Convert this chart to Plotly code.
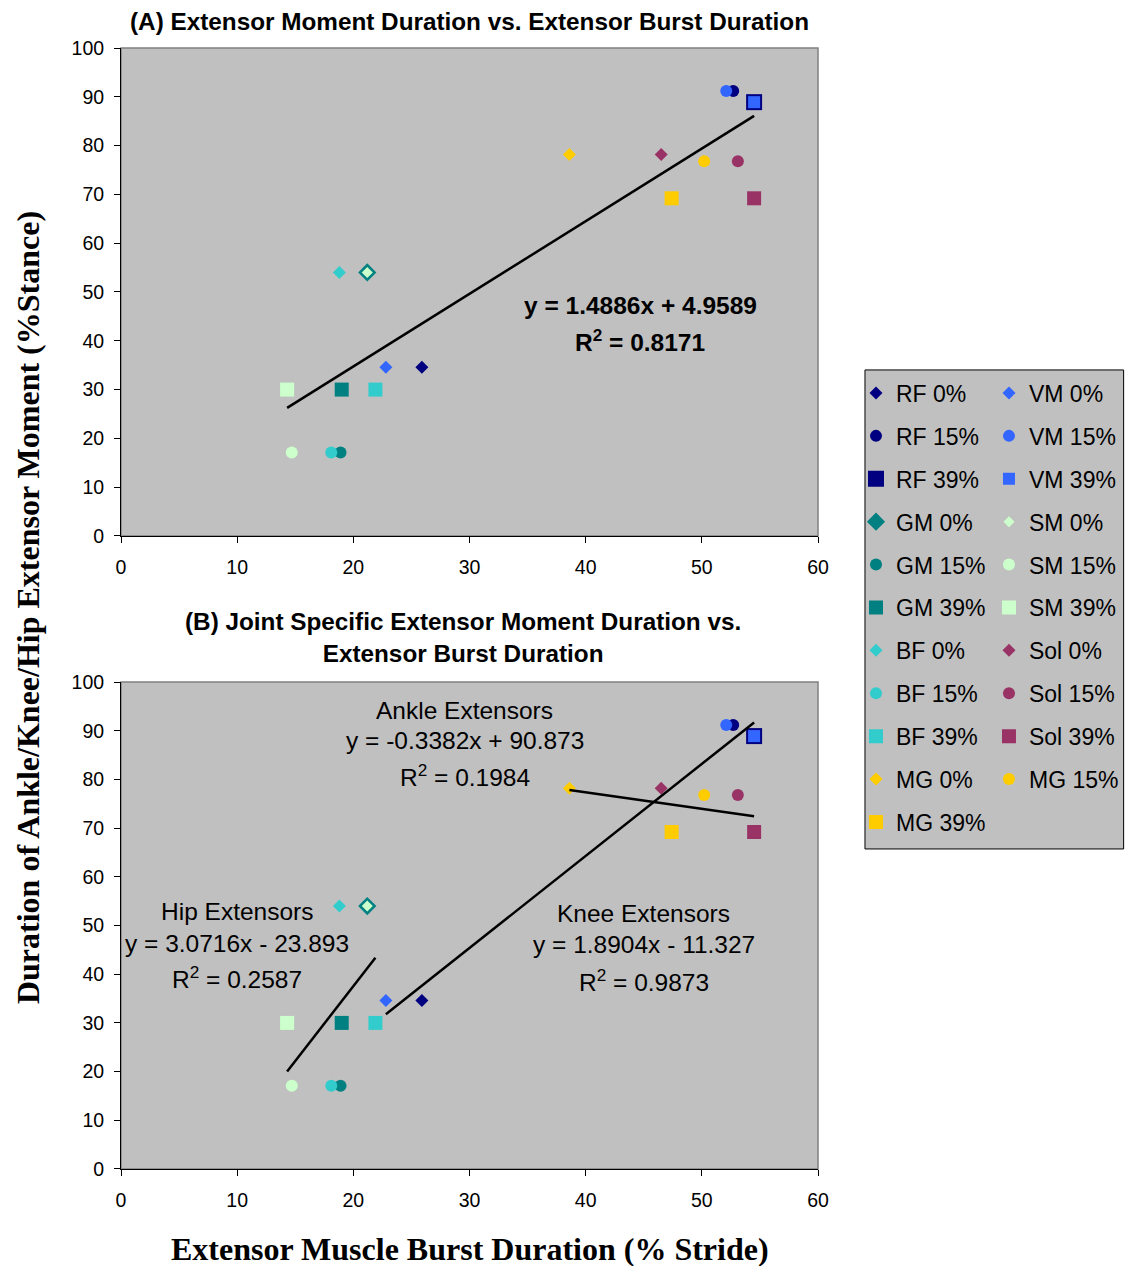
import plotly.graph_objects as go

# ---------------- data ----------------
series_names = ["RF 0%", "VM 0%", "RF 15%", "VM 15%", "RF 39%", "VM 39%",
                "GM 0%", "SM 0%", "GM 15%", "SM 15%", "GM 39%", "SM 39%",
                "BF 0%", "Sol 0%", "BF 15%", "Sol 15%", "BF 39%", "Sol 39%",
                "MG 0%", "MG 15%", "MG 39%"]
burst_duration = [25.9, 22.8, 52.7, 52.1, 54.5, 54.5,
                  21.2, 21.2, 18.9, 14.7, 19.0, 14.3,
                  18.8, 46.5, 18.1, 53.1, 21.9, 54.5,
                  38.6, 50.2, 47.4]
moment_duration = [34.6, 34.6, 91.2, 91.2, 88.9, 88.9,
                   54.0, 54.0, 17.1, 17.1, 30.0, 30.0,
                   54.0, 78.2, 17.1, 76.8, 30.0, 69.2,
                   78.2, 76.8, 69.2]

# regression results (slope, intercept, R^2)
overall_fit = (1.4886, 4.9589, 0.8171)
hip_fit = (3.0716, -23.893, 0.2587)
knee_fit = (1.8904, -11.327, 0.9873)
ankle_fit = (-0.3382, 90.873, 0.1984)

hip_muscles = ["GM", "SM", "BF"]
knee_muscles = ["RF", "VM"]
ankle_muscles = ["Sol", "MG"]

x_ticks = [0, 10, 20, 30, 40, 50, 60]
y_ticks = [0, 10, 20, 30, 40, 50, 60, 70, 80, 90, 100]

# ---------------- styles ----------------
colors = {"RF": "#000080", "VM": "#3366FF", "GM": "#008080", "SM": "#CCFFCC",
          "BF": "#33CCCC", "Sol": "#993366", "MG": "#FFCC00"}
symbols = {"0%": "diamond", "15%": "circle", "39%": "square"}
base_size = {"0%": 10, "15%": 12, "39%": 14}
size_override = {"GM 0%": 14, "SM 0%": 8.5, "RF 39%": 16, "VM 39%": 12}

SANS = "Liberation Sans, Arial, sans-serif"
SERIF = "Liberation Serif, Times New Roman, serif"
ANN_SIZE = 24.5

fig = go.Figure()

for i, name in enumerate(series_names):
    muscle, cond = name.split(" ")
    size = size_override.get(name, base_size[cond])
    for panel, (xa, ya) in enumerate([("x", "y"), ("x2", "y2")]):
        fig.add_trace(go.Scatter(
            x=[burst_duration[i]], y=[moment_duration[i]],
            mode="markers", name=name,
            xaxis=xa, yaxis=ya,
            marker=dict(symbol=symbols[cond], size=size, color=colors[muscle],
                        line=dict(width=0)),
            legend="legend" if i % 2 == 0 else "legend2",
            legendgroup=name,
            showlegend=(panel == 0),
        ))


def fit_line(fit, muscles, xa, ya):
    xs = [burst_duration[i] for i, n in enumerate(series_names) if n.split(" ")[0] in muscles]
    x0, x1 = min(xs), max(xs)
    m, b, _ = fit
    fig.add_trace(go.Scatter(x=[x0, x1], y=[m * x0 + b, m * x1 + b], mode="lines",
                             line=dict(color="black", width=2.5), showlegend=False,
                             xaxis=xa, yaxis=ya, hoverinfo="skip"))


fit_line(overall_fit, list(colors.keys()), "x", "y")
fit_line(hip_fit, hip_muscles, "x2", "y2")
fit_line(knee_fit, knee_muscles, "x2", "y2")
fit_line(ankle_fit, ankle_muscles, "x2", "y2")


def eq_text(fit):
    m, b, _ = fit
    sign = "+" if b >= 0 else "-"
    return f"y = {m:g}x {sign} {abs(b):g}"


def r2_text(fit):
    return f"R<sup>2</sup> = {fit[2]:g}"


annotations = []
# panel A equation (bold)
annotations.append(dict(x=44.7, y=47.3, xref="x", yref="y", text=f"<b>{eq_text(overall_fit)}</b>",
                        showarrow=False, font=dict(family=SANS, size=ANN_SIZE, color="black")))
annotations.append(dict(x=44.7, y=40.0, xref="x", yref="y", text=f"<b>{r2_text(overall_fit)}</b>",
                        showarrow=False, font=dict(family=SANS, size=ANN_SIZE, color="black")))

# panel B labels
for label, fit, cx, ys in [("Ankle Extensors", ankle_fit, 29.6, (94.2, 87.9, 80.9)),
                           ("Hip Extensors", hip_fit, 10.0, (52.8, 46.4, 39.4)),
                           ("Knee Extensors", knee_fit, 45.0, (52.4, 46.0, 38.8))]:
    for txt, yy in zip([label, eq_text(fit), r2_text(fit)], ys):
        annotations.append(dict(x=cx, y=yy, xref="x2", yref="y2", text=txt, showarrow=False,
                                font=dict(family=SANS, size=ANN_SIZE, color="black")))

# titles
annotations.append(dict(x=0.5, y=1.0235, xref="paper", yref="paper",
                        text="<b>(A) Extensor Moment Duration vs. Extensor Burst Duration</b>",
                        showarrow=False, xanchor="center", yanchor="middle",
                        font=dict(family=SANS, size=24.3, color="black")))
annotations.append(dict(x=0.4907, y=0.4737, xref="paper", yref="paper",
                        text="<b>(B) Joint Specific Extensor Moment Duration vs.<br>Extensor Burst Duration</b>",
                        showarrow=False, xanchor="center", yanchor="middle",
                        font=dict(family=SANS, size=24.3, color="black")))
# axis titles
annotations.append(dict(x=-0.1334, y=0.5004, xref="paper", yref="paper",
                        text="<b>Duration of Ankle/Knee/Hip Extensor Moment (%Stance)</b>",
                        textangle=-90, showarrow=False, xanchor="center", yanchor="middle",
                        font=dict(family=SERIF, size=32, color="black")))
annotations.append(dict(x=0.5, y=-0.0714, xref="paper", yref="paper",
                        text="<b>Extensor Muscle Burst Duration (% Stride)</b>",
                        showarrow=False, xanchor="center", yanchor="middle",
                        font=dict(family=SERIF, size=32, color="black")))

shapes = []
for xd, yd in [("x domain", "y domain"), ("x2 domain", "y2 domain")]:
    shapes.append(dict(type="rect", xref=xd, yref=yd, x0=0, x1=1, y0=0, y1=1,
                       line=dict(color="#808080", width=1.5), layer="below"))
# legend box
shapes.append(dict(type="rect", xref="paper", yref="paper", x0=1.0674, x1=1.4385,
                   y0=0.2855, y1=0.7128, fillcolor="#C0C0C0",
                   line=dict(color="black", width=1), layer="below"))

axis_common = dict(range=[0, 60], tickvals=x_ticks, ticks="outside", ticklen=6, tickcolor="black",
                   showline=True, linecolor="black", linewidth=1, showgrid=False, zeroline=False,
                   tickfont=dict(family=SANS, size=19.5, color="black"), ticklabelstandoff=8)
yaxis_common = dict(range=[0, 100], tickvals=y_ticks, ticks="outside", ticklen=6, tickcolor="black",
                    showline=True, linecolor="black", linewidth=1, showgrid=False, zeroline=False,
                    tickfont=dict(family=SANS, size=19.5, color="black"), ticklabelstandoff=6)

legend_common = dict(orientation="v", bgcolor="rgba(0,0,0,0)", borderwidth=0,
                     font=dict(family=SANS, size=23, color="black"),
                     tracegroupgap=10, traceorder="grouped", xanchor="left", yanchor="top",
                     itemclick=False)

# the page body adds an 8 px offset, so margins are reduced accordingly
fig.update_layout(
    width=1125, height=1258,
    margin=dict(l=113, r=315, t=40, b=97, autoexpand=False),
    paper_bgcolor="white", plot_bgcolor="#C0C0C0",
    xaxis=dict(domain=[0, 1], anchor="y", **axis_common),
    yaxis=dict(domain=[0.5647, 1], anchor="x", **yaxis_common),
    xaxis2=dict(domain=[0, 1], anchor="y2", **axis_common),
    yaxis2=dict(domain=[0, 0.4344], anchor="x2", **yaxis_common),
    legend=dict(x=1.0545, y=0.7114, **legend_common),
    legend2=dict(x=1.2453, y=0.7114, **legend_common),
    annotations=annotations,
    shapes=shapes,
    showlegend=True,
)

fig.write_html("out.html")
